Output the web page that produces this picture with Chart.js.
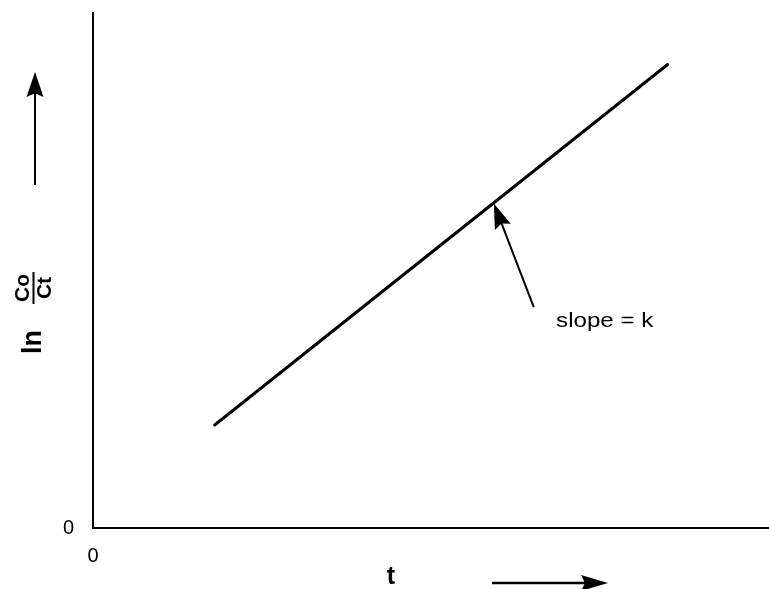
<!DOCTYPE html>
<html>
<head>
<meta charset="utf-8">
<script src="https://cdn.jsdelivr.net/npm/chart.js@4/dist/chart.umd.min.js"></script>
<style>
  html, body { margin: 0; padding: 0; background: #fff; }
  #wrap { width: 769px; height: 589px; position: relative; }
</style>
</head>
<body>
<div id="wrap"><canvas id="kinetics"></canvas></div>
<script>
// first-order plot: ln(Co/Ct) against t
const tValues = [1.8, 8.5];
const lnValues = [2.0, 9.0];
const xTicks = [0];
const yTicks = [0];

// slope note (data units)
const noteTip = [5.93, 6.3];
const noteTail = [6.52, 4.29];
const noteLabelAt = [6.85, 3.9];
const noteText = 'slope = k';

const FONT = '"Liberation Sans", Arial, Helvetica, sans-serif';

function arrowHead(ctx, x1, y1, x2, y2, len, half) {
    const a = Math.atan2(y2 - y1, x2 - x1);
    ctx.beginPath();
    ctx.moveTo(x2, y2);
    ctx.lineTo(x2 - len * Math.cos(a) + half * Math.sin(a), y2 - len * Math.sin(a) - half * Math.cos(a));
    ctx.lineTo(x2 - len * Math.cos(a) * 0.85, y2 - len * Math.sin(a) * 0.85);
    ctx.lineTo(x2 - len * Math.cos(a) - half * Math.sin(a), y2 - len * Math.sin(a) + half * Math.cos(a));
    ctx.closePath();
    ctx.fill();
}

function arrow(ctx, x1, y1, x2, y2, w, len, half) {
    const a = Math.atan2(y2 - y1, x2 - x1);
    ctx.lineWidth = w;
    ctx.beginPath();
    ctx.moveTo(x1, y1);
    ctx.lineTo(x2 - len * 0.8 * Math.cos(a), y2 - len * 0.8 * Math.sin(a));
    ctx.stroke();
    arrowHead(ctx, x1, y1, x2, y2, len, half);
}

const decorations = {
    id: 'decorations',
    afterDraw(chart) {
        const ctx = chart.ctx;
        const ca = chart.chartArea;
        const xs = chart.scales.x, ys = chart.scales.y;
        ctx.save();
        ctx.strokeStyle = '#000';
        ctx.fillStyle = '#000';

        // slope note arrow
        const tx = xs.getPixelForValue(noteTip[0]), ty = ys.getPixelForValue(noteTip[1]);
        const sx = xs.getPixelForValue(noteTail[0]), sy = ys.getPixelForValue(noteTail[1]);
        arrow(ctx, sx, sy, tx, ty, 2, 25, 8.5);

        // slope note text
        const lx = xs.getPixelForValue(noteLabelAt[0]), ly = ys.getPixelForValue(noteLabelAt[1]);
        ctx.save();
        ctx.translate(lx, ly);
        ctx.scale(1.15, 1);
        ctx.font = '21px ' + FONT;
        ctx.textAlign = 'left';
        ctx.textBaseline = 'alphabetic';
        ctx.fillText(noteText, 0, 0);
        ctx.restore();

        // y title: ln Co/Ct, rotated
        const ox = ca.left - 59, oy = ca.bottom - 213;
        ctx.save();
        ctx.translate(ox, oy);
        ctx.rotate(-Math.PI / 2);
        ctx.textAlign = 'center';
        ctx.textBaseline = 'middle';
        ctx.font = 'bold 27px ' + FONT;
        ctx.fillText('ln', -27, 0);
        ctx.font = 'bold 21px ' + FONT;
        ctx.fillText('Co', 27, -11);
        ctx.fillText('Ct', 27, 11);
        ctx.lineWidth = 2;
        ctx.beginPath();
        ctx.moveTo(11, -0.5);
        ctx.lineTo(43, -0.5);
        ctx.stroke();
        ctx.restore();

        // y direction arrow
        arrow(ctx, ca.left - 58, ca.top + 172, ca.left - 58, ca.top + 59, 2, 25, 8.5);

        // x title
        ctx.font = 'bold 25px ' + FONT;
        ctx.textAlign = 'center';
        ctx.textBaseline = 'middle';
        ctx.fillText('t', ca.left + 298, ca.bottom + 49);

        // x direction arrow
        arrow(ctx, ca.left + 399, ca.bottom + 55, ca.left + 515, ca.bottom + 55, 2.5, 27, 8);

        ctx.restore();
    }
};

new Chart(document.getElementById('kinetics'), {
    type: 'scatter',
    data: {
        datasets: [{
            data: tValues.map((t, i) => ({ x: t, y: lnValues[i] })),
            showLine: true,
            borderColor: '#000',
            borderWidth: 3,
            pointRadius: 0,
            borderCapStyle: 'round'
        }]
    },
    options: {
        responsive: true,
        maintainAspectRatio: false,
        animation: false,
        layout: { padding: { top: 13, right: 0, left: 0, bottom: 0 } },
        plugins: {
            legend: { display: false },
            tooltip: { enabled: false }
        },
        scales: {
            x: {
                type: 'linear',
                min: 0,
                max: 10,
                grid: { display: false, drawTicks: false },
                border: { display: true, color: '#000', width: 2 },
                afterBuildTicks: s => { s.ticks = xTicks.map(v => ({ value: v })); },
                afterFit: s => { s.height = 61; s.paddingLeft = 0; s.paddingRight = 0; },
                ticks: {
                    padding: 16,
                    color: '#000',
                    font: { family: FONT, size: 20 }
                }
            },
            y: {
                type: 'linear',
                min: 0,
                max: 10,
                grid: { display: false, drawTicks: false },
                border: { display: true, color: '#000', width: 2 },
                afterBuildTicks: s => { s.ticks = yTicks.map(v => ({ value: v })); },
                afterFit: s => { s.width = 93; s.paddingTop = 0; s.paddingBottom = 0; },
                ticks: {
                    padding: 19,
                    color: '#000',
                    font: { family: FONT, size: 20 }
                }
            }
        }
    },
    plugins: [decorations]
});
</script>
</body>
</html>
